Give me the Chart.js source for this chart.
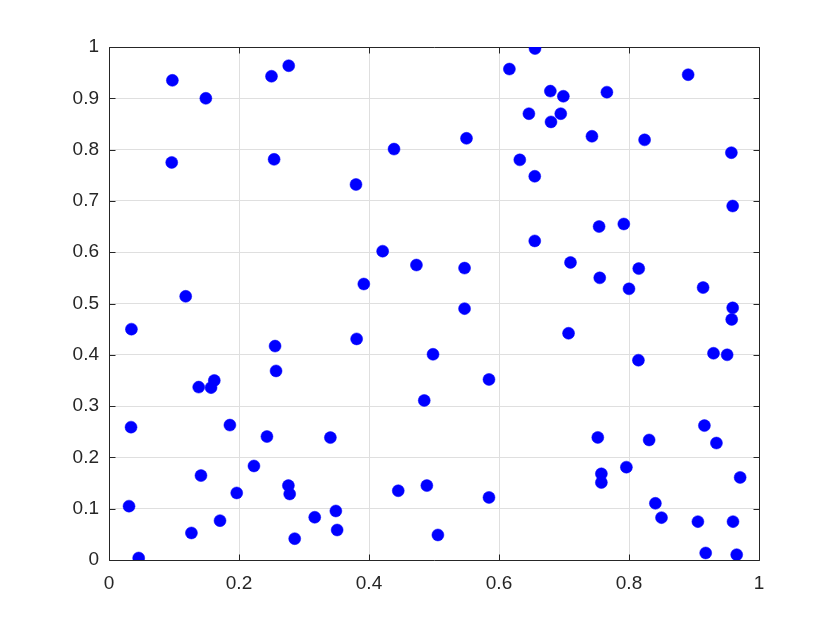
<!DOCTYPE html>
<html>
<head>
<meta charset="utf-8">
<script src="https://cdn.jsdelivr.net/npm/chart.js@4/dist/chart.umd.min.js"></script>
<style>
html,body{margin:0;padding:0;background:#ffffff;}
canvas{display:block;}
</style>
</head>
<body>
<canvas id="c" width="840" height="630"></canvas>
<script>
const xValues = [
0.0975,0.149,0.250,0.2765,0.0965,0.254,0.4385,0.380,0.421,0.473,0.392,0.118,
0.6554,0.616,0.891,0.679,0.699,0.766,0.646,0.695,0.680,0.550,0.743,0.824,0.9575,0.632,0.655,0.9595,0.754,0.792,0.655,0.547,0.710,0.755,0.815,0.800,0.914,0.547,0.9595,
0.958,0.707,0.4985,0.8145,0.930,0.951,0.5846,0.485,0.916,0.752,0.831,0.9345,0.796,0.7575,0.7575,0.971,0.489,0.5846,0.8406,0.850,0.906,0.960,0.506,0.918,0.9657,
0.0345,0.2555,0.381,0.257,0.138,0.157,0.162,0.0339,0.186,0.243,0.3406,0.223,0.1415,0.1965,0.276,0.278,0.445,0.0308,0.1708,0.1268,0.3165,0.349,0.351,0.2857,0.0457
];
const yValues = [
0.935,0.900,0.943,0.9635,0.775,0.781,0.801,0.732,0.602,0.575,0.538,0.514,
0.997,0.957,0.946,0.914,0.904,0.912,0.870,0.870,0.854,0.822,0.826,0.819,0.794,0.780,0.748,0.690,0.650,0.655,0.622,0.569,0.580,0.550,0.568,0.5286,0.531,0.490,0.4915,
0.469,0.442,0.401,0.3895,0.403,0.400,0.352,0.311,0.262,0.239,0.234,0.228,0.181,0.168,0.151,0.161,0.145,0.122,0.1105,0.0826,0.0748,0.0748,0.0488,0.0137,0.0104,
0.450,0.417,0.431,0.3686,0.337,0.336,0.350,0.259,0.263,0.2406,0.2386,0.1833,0.1645,0.1307,0.145,0.1287,0.135,0.105,0.0767,0.0527,0.0833,0.0956,0.0585,0.0416,0.0039
];
const xTickValues = [0,0.2,0.4,0.6,0.8,1];
const xTickLabels = ['0','0.2','0.4','0.6','0.8','1'];
const yTickValues = [0,0.1,0.2,0.3,0.4,0.5,0.6,0.7,0.8,0.9,1];
const yTickLabels = ['0','0.1','0.2','0.3','0.4','0.5','0.6','0.7','0.8','0.9','1'];

const axisColor = '#262626';
const gridColor = '#dfdfdf';
const fontSpec = {family:"'Liberation Sans', Arial, Helvetica, sans-serif", size:19};

const boxPlugin = {
  id:'matlabBox',
  beforeDatasetsDraw(chart){
    const {ctx, chartArea:a, scales} = chart;
    ctx.save();
    ctx.strokeStyle = axisColor;
    ctx.lineWidth = 1;
    const L = Math.round(a.left)+0.5, R = Math.round(a.right)+0.5, T = Math.round(a.top)+0.5, B = Math.round(a.bottom)+0.5;
    ctx.beginPath();
    ctx.rect(L, T, R-L, B-T);
    ctx.stroke();
    const tl = 6;
    ctx.beginPath();
    xTickValues.forEach(v=>{
      const px = Math.round(scales.x.getPixelForValue(v))+0.5;
      ctx.moveTo(px,B); ctx.lineTo(px,B-tl);
      ctx.moveTo(px,T); ctx.lineTo(px,T+tl);
    });
    yTickValues.forEach(v=>{
      const py = Math.round(scales.y.getPixelForValue(v))+0.5;
      ctx.moveTo(L,py); ctx.lineTo(L+tl,py);
      ctx.moveTo(R,py); ctx.lineTo(R-tl,py);
    });
    ctx.stroke();
    ctx.restore();
  }
};

new Chart(document.getElementById('c'), {
  type:'scatter',
  data:{
    datasets:[{
      data: xValues.map((x,i)=>({x:x, y:yValues[i]})),
      backgroundColor:'#0000ff',
      borderColor:'#0000ff',
      borderWidth:0.5,
      pointRadius:6,
      pointHoverRadius:6
    }]
  },
  options:{
    responsive:false,
    animation:false,
    events:[],
    layout:{padding:{top:47,right:81,bottom:0,left:0}},
    plugins:{legend:{display:false},tooltip:{enabled:false}},
    scales:{
      x:{
        type:'linear', min:0, max:1,
        afterBuildTicks(s){ s.ticks = xTickValues.map(v=>({value:v})); },
        afterFit(s){ s.height = 70; },
        grid:{color:gridColor, drawTicks:false, lineWidth:1},
        border:{display:false},
        ticks:{padding:12, color:axisColor, font:fontSpec, maxRotation:0,
          callback:(v)=>{const i=xTickValues.indexOf(v); return i>=0?xTickLabels[i]:'';}}
      },
      y:{
        type:'linear', min:0, max:1,
        afterBuildTicks(s){ s.ticks = yTickValues.map(v=>({value:v})); },
        afterFit(s){ s.width = 109; },
        grid:{color:gridColor, drawTicks:false, lineWidth:1},
        border:{display:false},
        ticks:{padding:10, color:axisColor, font:fontSpec,
          callback:(v)=>{const i=yTickValues.indexOf(v); return i>=0?yTickLabels[i]:'';}}
      }
    }
  },
  plugins:[boxPlugin]
});
</script>
</body>
</html>
